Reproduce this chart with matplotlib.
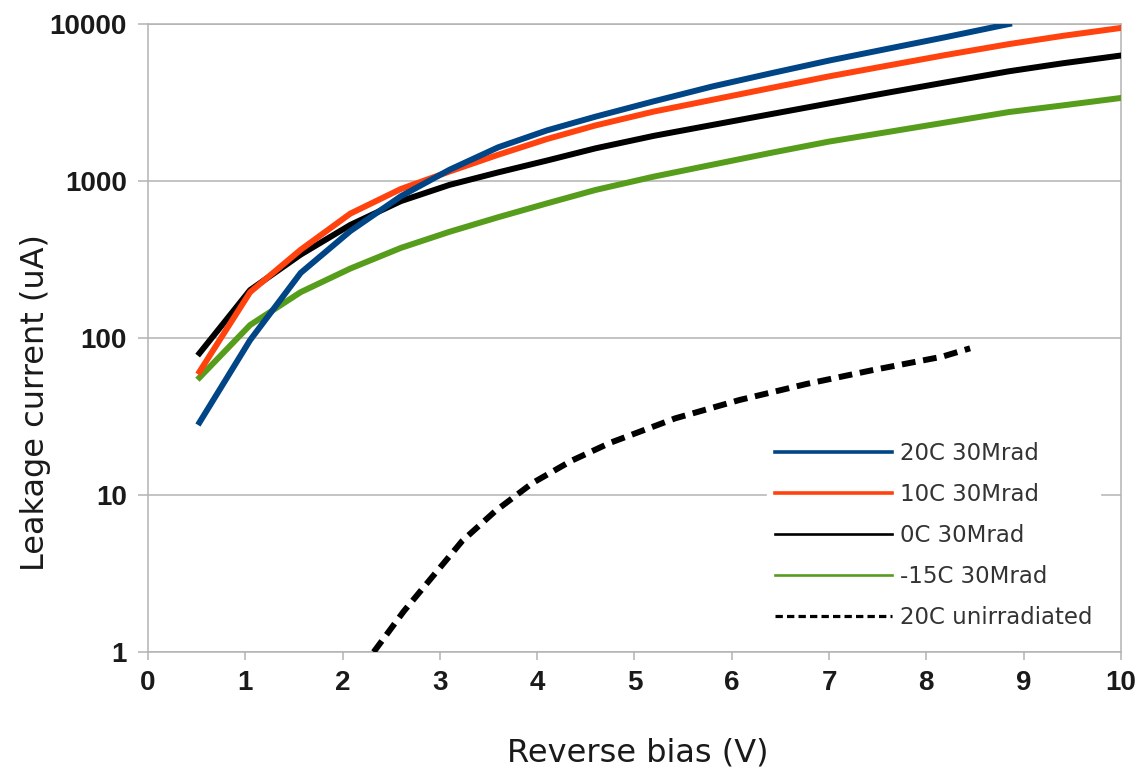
import matplotlib
matplotlib.use("Agg")
import matplotlib.pyplot as plt
from matplotlib import ticker

# reverse bias (V) and leakage current (uA)
bias = [0.53, 1.05, 1.57, 2.08, 2.6, 3.1, 3.6, 4.1, 4.6, 5.2, 5.8, 6.4, 7.0, 7.6, 8.2, 8.85, 9.4, 10.0]

i_20c = [29, 97, 260, 480, 800, 1180, 1640, 2100, 2570, 3220, 4000, 4850, 5850, 6950, 8250, 10000]
i_10c = [61, 196, 365, 620, 890, 1150, 1470, 1850, 2260, 2770, 3290, 3910, 4640, 5430, 6350, 7450, 8400, 9440]
i_0c = [80, 202, 340, 525, 745, 945, 1135, 1350, 1615, 1940, 2275, 2665, 3120, 3650, 4250, 5000, 5620, 6300]
i_m15c = [56, 121, 196, 277, 375, 475, 588, 720, 877, 1067, 1270, 1510, 1783, 2050, 2360, 2750, 3030, 3380]

bias_unirr = [2.32, 2.63, 2.93, 3.23, 3.57, 3.95, 4.35, 4.75, 5.42, 6.08, 6.77, 7.45, 8.16, 8.45]
i_unirr = [1.0, 1.82, 3.05, 5.1, 7.9, 11.9, 16.5, 21.5, 30.8, 40.3, 51, 62.5, 76, 86]

labels = ["20C 30Mrad", "10C 30Mrad", "0C 30Mrad", "-15C 30Mrad", "20C unirradiated"]
colors = ["#004586", "#ff420e", "#000000", "#579d1c", "#000000"]
xticks = list(range(0, 11))
yticks = [1, 10, 100, 1000, 10000]

grey = "#b3b3b3"
ink = "#1a1a1a"
lw = 4.3

fig = plt.figure(figsize=(11.38, 7.72), dpi=100)
ax = fig.add_axes([0.130, 0.1554, 0.855, 0.8135])

ax.plot(bias[:len(i_20c)], i_20c, color=colors[0], lw=lw, label=labels[0], zorder=6)
ax.plot(bias, i_10c, color=colors[1], lw=lw, label=labels[1], zorder=5)
ax.plot(bias, i_0c, color=colors[2], lw=lw, label=labels[2], zorder=4)
ax.plot(bias, i_m15c, color=colors[3], lw=lw, label=labels[3], zorder=3)
ax.plot(bias_unirr, i_unirr, color=colors[4], lw=lw, label=labels[4],
        dashes=(2.3, 1.3), dash_capstyle="butt", zorder=3)

ax.set_yscale("log")
ax.set_xlim(0, 10)
ax.set_ylim(1, 10000)
ax.set_xticks(xticks)
ax.set_yticks(yticks)
ax.yaxis.set_major_formatter(ticker.FuncFormatter(lambda v, _: f"{v:g}"))
ax.yaxis.set_minor_locator(ticker.NullLocator())

for lab in ax.get_xticklabels() + ax.get_yticklabels():
    lab.set_fontfamily("Liberation Sans")
    lab.set_fontweight("bold")
    lab.set_fontsize(20)
    lab.set_color(ink)

ax.tick_params(axis="y", length=7.2, width=1.1, color=grey, pad=8)
ax.tick_params(axis="x", length=5.8, width=1.1, color=grey, pad=7)

ax.grid(axis="y", color=grey, lw=1.1)
ax.set_axisbelow(True)
for sp in ax.spines.values():
    sp.set_color(grey)
    sp.set_linewidth(1.1)

ax.set_xlabel("Reverse bias (V)", fontsize=23, color=ink)
ax.set_ylabel("Leakage current (uA)", fontsize=23, color=ink)
ax.xaxis.set_label_coords(0.503, -0.136)
ax.yaxis.set_label_coords(-0.100, 0.398)

leg = ax.legend(loc="upper left", bbox_to_anchor=(0.636, 0.347), borderaxespad=0,
                fontsize=16.5, handlelength=5.1, handletextpad=0.35, labelspacing=0.78,
                borderpad=0.35, frameon=True, fancybox=False, framealpha=1,
                facecolor="white", edgecolor="white")
leg.set_zorder(10)
for line, w in zip(leg.get_lines(), [2.6, 2.6, 1.9, 1.9, 2.3]):
    line.set_linewidth(w)
for t in leg.get_texts():
    t.set_color("#333333")

fig.savefig("out.png", dpi=100)
